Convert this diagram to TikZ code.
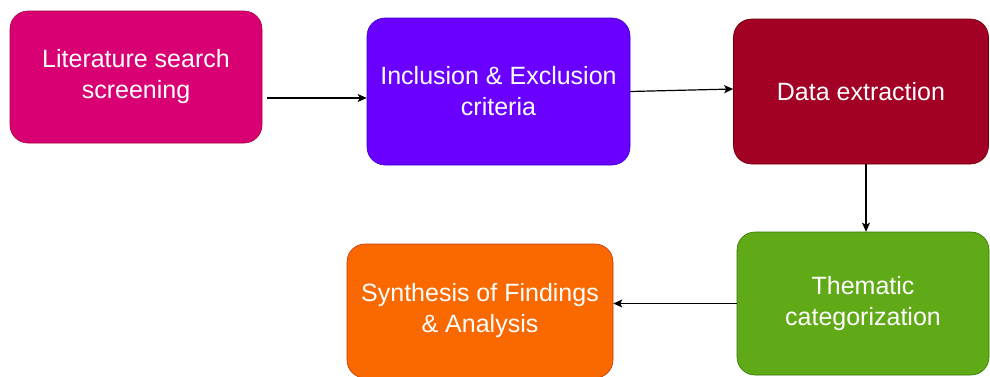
\documentclass[tikz,border=0pt]{standalone}
\usepackage{fontspec}
\setmainfont{Liberation Sans}
\usepackage{xcolor}
\usepackage{tikz}
\usetikzlibrary{arrows.meta,positioning,calc}

\definecolor{litfill}{HTML}{D80073}
\definecolor{litline}{HTML}{A50040}
\definecolor{inclfill}{HTML}{6A00FF}
\definecolor{inclline}{HTML}{3700CC}
\definecolor{datafill}{HTML}{A20025}
\definecolor{dataline}{HTML}{6F0000}
\definecolor{themfill}{HTML}{60A917}
\definecolor{themline}{HTML}{2D7600}
\definecolor{synthfill}{HTML}{FA6800}
\definecolor{synthline}{HTML}{C73500}

\begin{document}
\begin{tikzpicture}[x=1pt, y=1pt, >={Stealth[length=9pt,width=8pt,inset=2pt]},
    stage/.style={rounded corners=18pt, draw, line width=0.6pt, align=center,
        text=white, font=\fontsize{25}{31}\selectfont, inner sep=0pt},
    flow/.style={->, line width=1.2pt, black}]
    \useasboundingbox (0,0) rectangle (990,376);

    % Stages
    \node[stage, fill=litfill, draw=litline, minimum width=252pt, minimum height=132pt] (lit) at (136,299) {Literature search\\screening};
    \node[stage, fill=inclfill, draw=inclline, minimum width=263pt, minimum height=147pt] (incl) at (498.5,284.5) {Inclusion \& Exclusion\\criteria};
    \node[stage, fill=datafill, draw=dataline, minimum width=255pt, minimum height=145pt] (data) at (861,284.5) {Data extraction};
    \node[stage, fill=themfill, draw=themline, minimum width=252pt, minimum height=143pt] (them) at (863,72.5) {Thematic\\categorization};
    \node[stage, fill=synthfill, draw=synthline, minimum width=266pt, minimum height=134pt] (synth) at (480,65) {Synthesis of Findings\\\& Analysis};

    % Connectors
    \draw[flow] ([xshift=5pt,yshift=-21pt]lit.east) -- ([yshift=-6.5pt]incl.west);
    \draw[flow] (incl.east) -- ([yshift=2.5pt]data.west);
    \draw[flow] ([xshift=5pt]data.south) -- ([xshift=3pt]them.north);
    \draw[flow] (them.west) -- (them.west -| synth.east);

\end{tikzpicture}
\end{document}
